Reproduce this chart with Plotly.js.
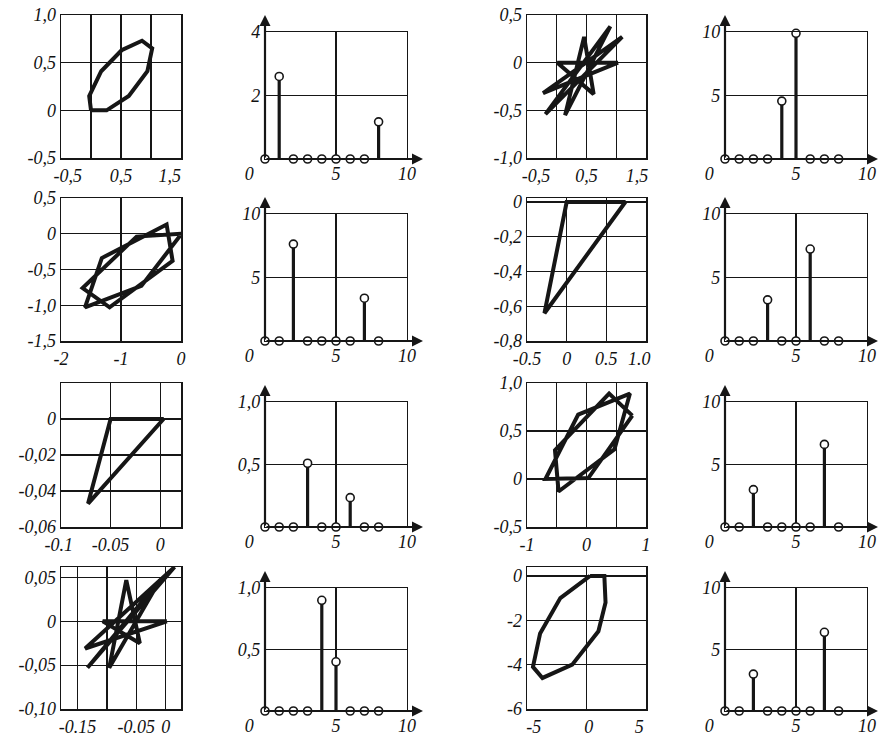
<!DOCTYPE html>
<html>
<head>
<meta charset="utf-8">
<script src="https://cdn.plot.ly/plotly-3.0.1.min.js"></script>
<style>
html, body { margin: 0; padding: 0; background: #fff; }
#chart { width: 880px; height: 736px; }
</style>
</head>
<body>
<div id="chart"></div>
<script>
// signals x[n] + j*y[n], n = 0..8 (columns 1 and 3)
var sigAx = [0, 0.26, 0.63, 0.94, 1.02, 0.85, 0.51, 0.17, -0.03];
var sigAy = [0, 0, 0.15, 0.41, 0.65, 0.73, 0.63, 0.41, 0.15];
var sigBx = [1.03, 0.01, 0.62, 0.46, 0.14, 0.9, -0.19, 1.1, -0.23];
var sigBy = [0, 0, -0.33, 0.27, -0.55, 0.38, -0.54, 0.27, -0.32];
var sigCx = [0.01, -0.74, -1.64, -1.19, -0.14, -0.24, -1.32, -1.6, -0.66];
var sigCy = [0, -0.04, -0.76, -1.03, -0.38, 0.13, -0.34, -1.03, -0.73];
var sigDx = [0, 0.74, -0.28, 0, 0.74, -0.28, 0, 0.74, -0.28];
var sigDy = [0, 0, -0.64, 0, 0, -0.64, 0, 0, -0.64];
var sigEx = [-0.05, 0.0034, -0.0727, -0.05, 0.0034, -0.0727, -0.05, 0.0034, -0.0727];
var sigEy = [0, 0, -0.047, 0, 0, -0.047, 0, 0, -0.047];
var sigFx = [0.77, 0.38, -0.53, -0.47, 0.47, 0.73, -0.14, -0.69, 0.03];
var sigFy = [0.66, 0.89, 0.30, -0.13, 0.31, 0.89, 0.67, 0, 0.01];
var sigGx = [0.002, -0.107, -0.044, -0.067, -0.096, -0.010, -0.133, 0.015, -0.137];
var sigGy = [0, 0, -0.025, 0.047, -0.053, 0.047, -0.053, 0.062, -0.031];
var sigHx = [0.3, 1.5, 1.6, 1.0, -1.2, -3.7, -4.5, -3.9, -2.2];
var sigHy = [0, 0, -1.2, -2.5, -4.0, -4.6, -4.1, -2.6, -1.0];

// magnitude spectra |X[k]|, k = 0..8 (columns 2 and 4)
var k = [0, 1, 2, 3, 4, 5, 6, 7, 8];
var specA = [0, 2.6, 0, 0, 0, 0, 0, 0, 1.17];
var specB = [0, 0, 0, 0, 4.56, 9.9, 0, 0, 0];
var specC = [0, 0, 7.63, 0, 0, 0, 0, 3.37, 0];
var specD = [0, 0, 0, 3.24, 0, 0, 7.24, 0, 0];
var specE = [0, 0, 0, 0.51, 0, 0, 0.235, 0, 0];
var specF = [0, 0, 2.99, 0, 0, 0, 0, 6.61, 0];
var specG = [0, 0, 0, 0, 0.9, 0.4, 0, 0, 0];
var specH = [0, 0, 3.0, 0, 0, 0, 0, 6.4, 0];

// tick values / labels (nbsp padding nudges edge labels inward like the print)
var sp = '\u00a0';
function padL(s, m) { return sp.repeat(m) + s; }
function padR(s, m) { return s + sp.repeat(m); }

var kTicks = [0, 5, 10];
var kLabels = [padR('0', 7), '5', '10'];

var tA = { xv: [-0.5, 0, 0.5, 1, 1.5], xl: [padL('-0,5', 3), '', '0,5', '', padR('1,5', 5)],
           yv: [-0.5, 0, 0.5, 1], yl: ['-0,5', '0', '0,5', '1,0'] };
var tB = { xv: [-0.5, 0, 0.5, 1, 1.5], xl: [padL('-0,5', 4), '', '0,5', '', padR('1,5', 4)],
           yv: [-1, -0.5, 0, 0.5], yl: ['-1,0', '-0,5', '0', '0,5'] };
var tC = { xv: [-2, -1, 0], xl: ['-2', '-1', '0'],
           yv: [-1.5, -1, -0.5, 0, 0.5], yl: ['-1,5', '-1,0', '-0,5', '0', '0,5'] };
var tD = { xv: [-0.5, 0, 0.5, 1], xl: ['-0.5', '0', '0.5', padR('1.0', 3)],
           yv: [-0.8, -0.6, -0.4, -0.2, 0], yl: ['-0,8', '-0,6', '-0,4', '-0,2', '0'] };
var tE = { xv: [-0.1, -0.05, 0], xl: [padR('-0.1', 1), '-0.05', '0'],
           yv: [-0.06, -0.04, -0.02, 0], yl: ['-0,06', '-0,04', '-0,02', '0'] };
var tF = { xv: [-1, -0.5, 0, 0.5, 1], xl: ['-1', '', '0', '', '1'],
           yv: [-0.5, 0, 0.5, 1], yl: ['-0,5', '0', '0,5', '1,0'] };
var tG = { xv: [-0.15, -0.1, -0.05, 0], xl: ['-0.15', '', '-0.05', '0'],
           yv: [-0.1, -0.05, 0, 0.05], yl: ['-0,10', '-0,05', '0', '0,05'] };
var tH = { xv: [-5, 0, 5], xl: [padL('-5', 3), padL('0', 1), padR('5', 3)],
           yv: [-6, -4, -2, 0], yl: ['-6', '-4', '-2', '0'] };

var W = 880, H = 736;
function px(v) { return v / W; }
function py(v) { return 1 - v / H; }

var ink = '#161616';
var serif = '"Liberation Serif", "Times New Roman", "DejaVu Serif", serif';
var tickFont = { family: serif, size: 18, style: 'italic', color: '#111' };

// panel boxes in page pixels
var colX = [[61, 181], [265, 407], [527, 646], [725, 867]];
var sigRowY = [[15, 158], [198, 341], [383, 527], [567, 709]];
var specRowY = [[32, 159], [214, 341], [402, 527], [588, 711]];
var arrowTip = [423, 878];

var sigPanels = [
  { x: sigAx, y: sigAy, t: tA, xr: [-0.5, 1.5], yr: [-0.5, 1.0], col: 0, row: 0 },
  { x: sigBx, y: sigBy, t: tB, xr: [-0.5, 1.5], yr: [-1.0, 0.5], col: 2, row: 0 },
  { x: sigCx, y: sigCy, t: tC, xr: [-2, 0], yr: [-1.5, 0.5], col: 0, row: 1 },
  { x: sigDx, y: sigDy, t: tD, xr: [-0.5, 1.0], yr: [-0.8, 0.023], col: 2, row: 1 },
  { x: sigEx, y: sigEy, t: tE, xr: [-0.1, 0.021], yr: [-0.06, 0.02], col: 0, row: 2 },
  { x: sigFx, y: sigFy, t: tF, xr: [-1, 1], yr: [-0.5, 1.0], col: 2, row: 2 },
  { x: sigGx, y: sigGy, t: tG, xr: [-0.178, 0.026], yr: [-0.1, 0.062], col: 0, row: 3 },
  { x: sigHx, y: sigHy, t: tH, xr: [-5, 5], yr: [-6, 0.4], col: 2, row: 3 }
];

var specPanels = [
  { v: specA, ymax: 4, yv: [0, 2, 4], yl: ['', '2', '4'], col: 1, row: 0 },
  { v: specB, ymax: 10, yv: [0, 5, 10], yl: ['', '5', '10'], col: 3, row: 0 },
  { v: specC, ymax: 10, yv: [0, 5, 10], yl: ['', '5', '10'], col: 1, row: 1 },
  { v: specD, ymax: 10, yv: [0, 5, 10], yl: ['', '5', '10'], col: 3, row: 1 },
  { v: specE, ymax: 1, yv: [0, 0.5, 1], yl: ['', '0,5', '1,0'], col: 1, row: 2 },
  { v: specF, ymax: 10, yv: [0, 5, 10], yl: ['', '5', '10'], col: 3, row: 2 },
  { v: specG, ymax: 1, yv: [0, 0.5, 1], yl: ['', '0,5', '1,0'], col: 1, row: 3 },
  { v: specH, ymax: 10, yv: [0, 5, 10], yl: ['', '5', '10'], col: 3, row: 3 }
];

var data = [];
var layout = {
  width: W, height: H,
  margin: { l: 0, r: 0, t: 0, b: 0 },
  paper_bgcolor: '#fff', plot_bgcolor: '#fff',
  font: { family: serif, size: 18, style: 'italic', color: '#111' },
  showlegend: false,
  annotations: []
};

function axisBase(range, tv, tt) {
  return {
    range: range, tickmode: 'array', tickvals: tv, ticktext: tt,
    showgrid: true, gridcolor: ink, gridwidth: 1.3,
    showline: true, mirror: true, linecolor: ink, linewidth: 1.5,
    zeroline: false, ticks: '', tickfont: tickFont, fixedrange: true
  };
}

var n = 0;
sigPanels.forEach(function (p) {
  n++;
  var xa = 'xaxis' + (n === 1 ? '' : n), ya = 'yaxis' + (n === 1 ? '' : n);
  var xr = 'x' + (n === 1 ? '' : n), yr = 'y' + (n === 1 ? '' : n);
  var cx = colX[p.col], ry = sigRowY[p.row];
  layout[xa] = Object.assign(axisBase(p.xr, p.t.xv, p.t.xl),
    { domain: [px(cx[0]), px(cx[1])], anchor: yr, ticklabelstandoff: 1 });
  layout[ya] = Object.assign(axisBase(p.yr, p.t.yv, p.t.yl),
    { domain: [py(ry[1]), py(ry[0])], anchor: xr });
  data.push({
    type: 'scatter', mode: 'lines', xaxis: xr, yaxis: yr,
    x: p.x.concat([p.x[0]]), y: p.y.concat([p.y[0]]),
    line: { color: ink, width: 4 }, hoverinfo: 'skip'
  });
});

specPanels.forEach(function (p) {
  n++;
  var xa = 'xaxis' + n, ya = 'yaxis' + n, xr = 'x' + n, yr = 'y' + n;
  var cx = colX[p.col], ry = specRowY[p.row];
  layout[xa] = Object.assign(axisBase([0, 10], kTicks, kLabels),
    { domain: [px(cx[0]), px(cx[1])], anchor: yr, ticklabelstandoff: -2 });
  layout[ya] = Object.assign(axisBase([0, p.ymax], p.yv, p.yl),
    { domain: [py(ry[1]), py(ry[0])], anchor: xr });
  layout[xa].linewidth = 1.2;
  layout[ya].linewidth = 1.2;

  var sx = [], sy = [];
  k.forEach(function (kk, i) {
    if (p.v[i] > 0) { sx.push(kk, kk, null); sy.push(0, p.v[i], null); }
  });
  data.push({
    type: 'scatter', mode: 'lines', xaxis: xr, yaxis: yr,
    x: sx, y: sy, line: { color: ink, width: 3.2 }, hoverinfo: 'skip'
  });
  data.push({
    type: 'scatter', mode: 'markers', xaxis: xr, yaxis: yr, cliponaxis: false,
    x: k, y: p.v,
    marker: { symbol: 'circle', size: 8, color: '#fff', line: { color: ink, width: 1.6 } },
    hoverinfo: 'skip'
  });

  // axis arrows
  var tipX = arrowTip[p.col === 1 ? 0 : 1];
  layout.annotations.push({
    xref: 'paper', yref: 'paper', x: px(tipX), y: py(ry[1]),
    ax: -(tipX - cx[0]), ay: 0, axref: 'pixel', ayref: 'pixel',
    text: '', showarrow: true, arrowhead: 2, arrowsize: 1, arrowwidth: 2.2, arrowcolor: ink
  });
  layout.annotations.push({
    xref: 'paper', yref: 'paper', x: px(cx[0]), y: py(ry[0] - 17),
    ax: 0, ay: (ry[1] - ry[0] + 17), axref: 'pixel', ayref: 'pixel',
    text: '', showarrow: true, arrowhead: 2, arrowsize: 1, arrowwidth: 2.2, arrowcolor: ink
  });
});

Plotly.newPlot('chart', data, layout, { displayModeBar: false, staticPlot: true });
</script>
</body>
</html>
